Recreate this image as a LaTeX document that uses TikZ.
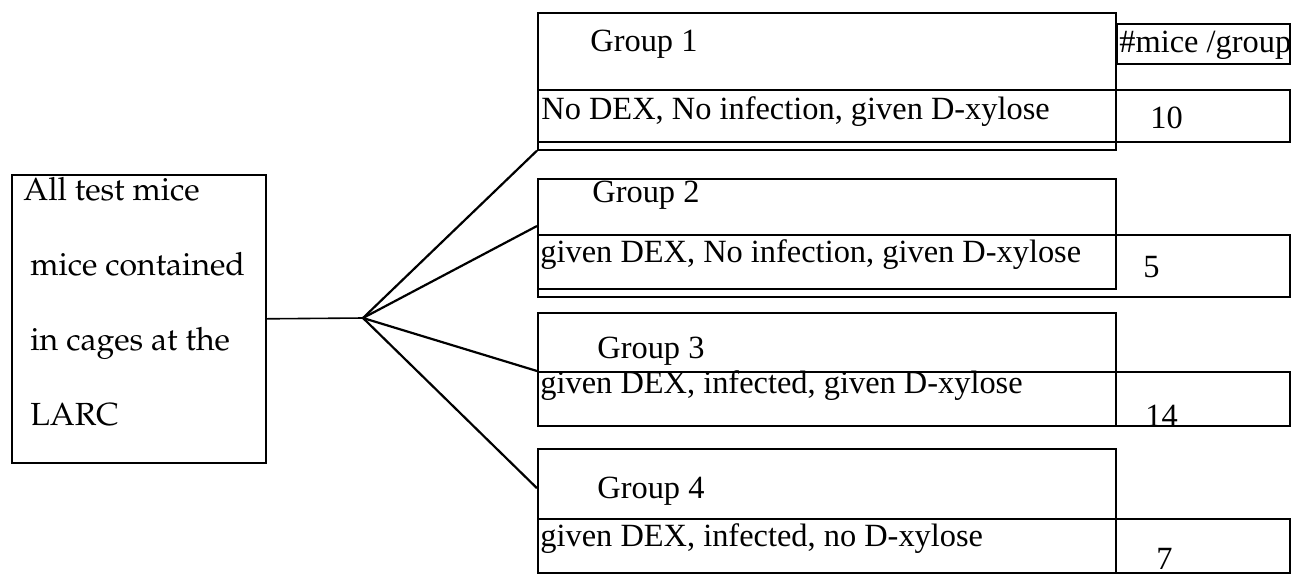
\documentclass[tikz,border=0pt]{standalone}
\usepackage[T1]{fontenc}
\usepackage{fontspec}
\setmainfont{Liberation Serif}
\usepackage{tikz}
\usetikzlibrary{calc}
\newcommand{\palatext}{\fontencoding{T1}\fontfamily{ppl}\selectfont}

\begin{document}
\begin{tikzpicture}[
    x=0.5pt, y=-0.5pt,
    font=\fontsize{16.2}{19}\selectfont,
    cell/.style={
        draw,
        line width=0.8pt,          % thin box outline
        inner sep=0pt,
        anchor=north west
    },
    branch/.style={
        draw,
        line width=1.1pt
    },
    label_text/.style={
        anchor=base west,
        inner sep=0pt
    }
]
    \useasboundingbox (0,0) rectangle (1293,574);

    % --- 1. Source box ---
    \node[cell, minimum width=127pt, minimum height=144pt] (pool) at (11,174) {};
    \node[anchor=north west, align=left, inner sep=0pt,
          font=\palatext\fontsize{16}{37.5}\selectfont] (pooltext) at (23,177)
        {All test mice\\ \hspace*{3.5pt}mice contained\\ \hspace*{3.5pt}in cages at the\\ \hspace*{3.5pt}LARC};

    \coordinate (hub) at (363,318);

    % --- 2. Group boxes ---
    \node[cell, minimum width=289pt, minimum height=68.5pt] (g1) at (537,12) {};
    \node[cell, minimum width=289pt, minimum height=55pt] (g2) at (537,178) {};
    \node[cell, minimum width=289pt, minimum height=56.5pt] (g3) at (537,312) {};
    \node[cell, minimum width=289pt, minimum height=62pt] (g4) at (537,448) {};

    % --- 3. Treatment rows (run out under the count column) ---
    \node[cell, minimum width=376pt, minimum height=26pt] (r1) at (537,89) {};
    \node[cell, minimum width=376pt, minimum height=31pt] (r2) at (537,234) {};
    \node[cell, minimum width=376pt, minimum height=27pt] (r3) at (537,371) {};
    \node[cell, minimum width=376pt, minimum height=27pt] (r4) at (537,518) {};

    % count column header
    \node[cell, minimum width=86.5pt, minimum height=20pt] (head) at (1116,23) {};

    % --- 4. Texts ---
    \node[label_text] (t1) at (590,51) {Group 1};
    \node[label_text] (t2) at (592,202) {Group 2};
    \node[label_text] (t3) at (597,358) {Group 3};
    \node[label_text] (t4) at (597,498) {Group 4};

    \node[label_text] (d1) at (541,119) {No DEX, No infection, given D-xylose};
    \node[label_text] (d2) at (540,262) {given DEX, No infection, given D-xylose};
    \node[label_text] (d3) at (540,393) {given DEX, infected, given D-xylose};
    \node[label_text] (d4) at (540,546) {given DEX, infected, no D-xylose};

    \node[label_text] (headtext) at (1119,52) {\#mice /group};
    \node[label_text] (n1) at (1150,128) {10};
    \node[label_text] (n2) at (1143,277) {5};
    \node[label_text] (n3) at (1145,426) {14};
    \node[label_text] (n4) at (1156,569) {7};

    % --- 5. Fan out ---
    \draw[line width=0.8pt] (pool.east) -- (hub);
    \draw[branch] (hub) -- (g1.south west);
    \draw[branch] (hub) -- ($(g2.north west)!0.43!(g2.south west)$);
    \draw[branch] (hub) -- (r3.north west);
    \draw[branch] (hub) -- ($(g4.north west)!0.32!(g4.south west)$);

\end{tikzpicture}
\end{document}
